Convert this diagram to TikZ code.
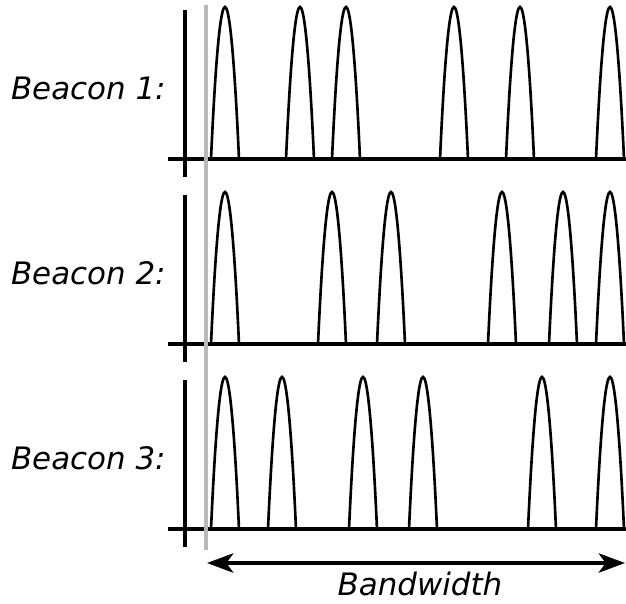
\documentclass[tikz,border=0pt]{standalone}
\usepackage{fontspec}
\setmainfont{DejaVu Sans}
\usetikzlibrary{arrows.meta}
\tikzset{axe/.style={line width=2.2pt},
  bosse/.style={line width=1.5pt},
  etiquette/.style={font=\itshape\fontsize{17.6}{20}\selectfont, inner sep=0pt}}
\begin{document}
\begin{tikzpicture}[x=0.02cm,y=-0.02cm]
\useasboundingbox (0,0) rectangle (626,603);
\pgfmathsetmacro{\haut}{152}
\pgfmathsetmacro{\demi}{14}
  \foreach \ligne/\base/\liste in {1/159/{225,300,346,454,520,610},2/344/{225,332,391,502,563,610},3/529/{225,282,363,423,542,610}} {
    \draw[axe] (168,\base) -- (626,\base);
    \draw[axe] (185,\base-149) -- (185,\base+18);
    \node[etiquette,anchor=east] (beacon\ligne) at (166,\base-71) {Beacon \ligne:};
    \foreach \x in \liste \draw[bosse] (\x-\demi,\base) parabola bend (\x,\base-\haut) (\x+\demi,\base);
  }
  \draw[line width=2pt,color=black!28] (206,5) -- (206,550);
  \coordinate (bgauche) at (207,563);
  \coordinate (bdroite) at (625,563);
  \draw[axe,{Stealth[length=15pt,width=11pt,inset=4pt]}-{Stealth[length=15pt,width=11pt,inset=4pt]}] (bgauche) -- (bdroite);
  \node[etiquette] (bande) at (420,584) {Bandwidth};
\end{tikzpicture}
\end{document}
